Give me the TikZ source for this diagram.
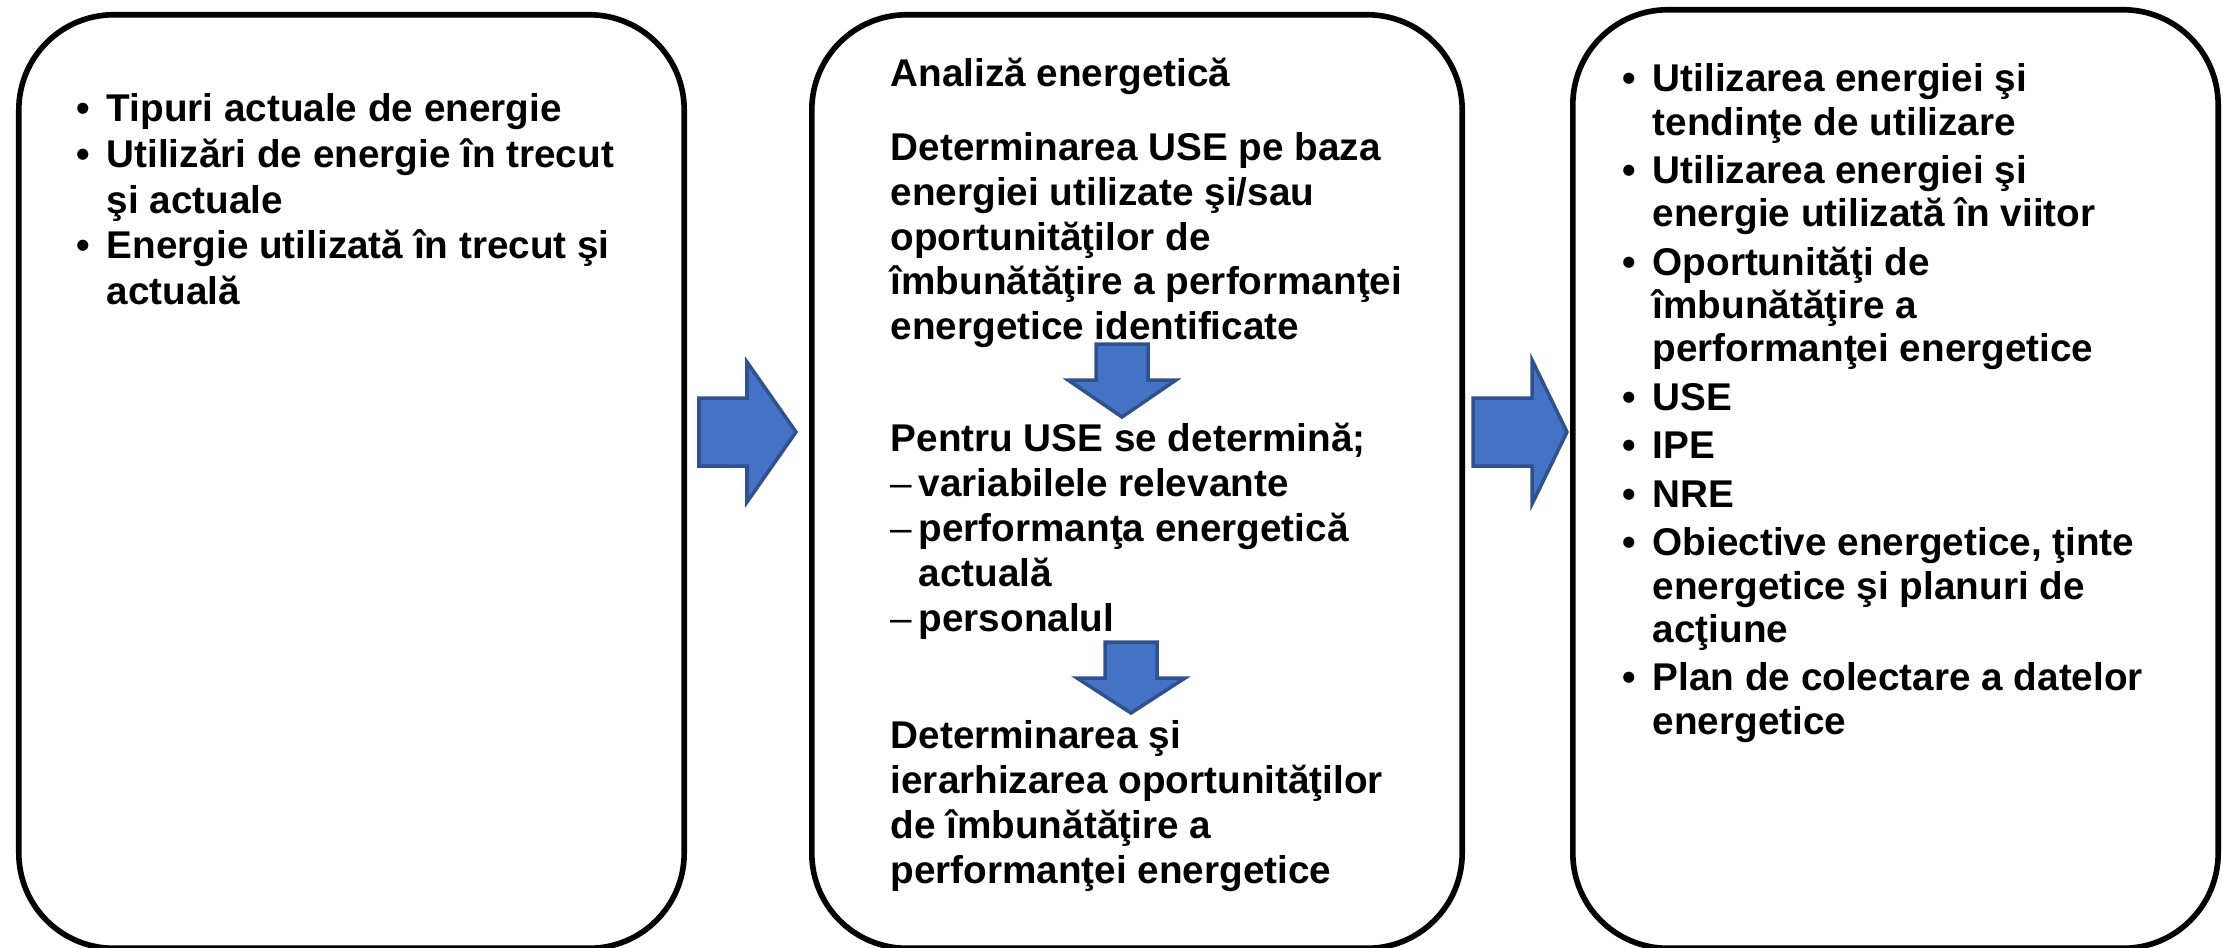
\documentclass[tikz,border=0pt]{standalone}
\usepackage{fontspec}
\setmainfont{Liberation Sans}
\usetikzlibrary{positioning}
\definecolor{arrowblue}{RGB}{68,114,196}
\definecolor{arrowedge}{RGB}{47,82,143}
\newcommand{\bul}{\llap{\textbullet\hspace{0.165cm}}}
\newcommand{\dash}{\makebox[0.28cm][l]{\mdseries –}}
\tikzset{
  box/.style={draw, line width=1.6pt, rounded corners=0.95cm, inner sep=0pt},
  txt/.style={anchor=north west, inner sep=0pt, align=left,
    font=\bfseries\fontsize{11pt}{12.3pt}\selectfont},
  blockarrow/.style={fill=arrowblue, draw=arrowedge, line width=1pt, line join=miter}
}
\begin{document}
\begin{tikzpicture}[x=0.01cm, y=-0.01cm]
\useasboundingbox (0,0) rectangle (2223,947);
% the three boxes
\node (1) [box, minimum width=6.65cm, minimum height=9.33cm] at (351.5,481.5) {};
\node (2) [box, minimum width=6.50cm, minimum height=9.33cm] at (1137,481.5) {};
\node (3) [box, minimum width=6.45cm, minimum height=9.38cm] at (1895.5,479) {};
% box 1
\node (t1) [txt, font=\bfseries\fontsize{11pt}{13pt}\selectfont] at (106,93) {\bul Tipuri actuale de energie\\
\bul Utilizări de energie în trecut\\
şi actuale\\
\bul Energie utilizată în trecut şi\\
actuală};
% box 2
\node (t2) [txt] at (890,57) {Analiză energetică};
\node (t3) [txt, font=\bfseries\fontsize{11pt}{12.7pt}\selectfont] at (890,132) {Determinarea USE pe baza\\
energiei utilizate şi/sau\\
oportunităţilor de\\
îmbunătăţire a performanţei\\
energetice identificate};
\node (t4) [txt, font=\bfseries\fontsize{11pt}{12.8pt}\selectfont] at (890,422) {Pentru USE se determină;\\
\dash variabilele relevante\\
\dash performanţa energetică\\
\hspace{0.28cm}actuală\\
\dash personalul};
\node (t5) [txt, font=\bfseries\fontsize{11pt}{12.8pt}\selectfont] at (890,720) {Determinarea şi\\
ierarhizarea oportunităţilor\\
de îmbunătăţire a\\
performanţei energetice};
% box 3
\node (t6) [txt] at (1652,63) {\bul Utilizarea energiei şi\\
tendinţe de utilizare\\[1.5pt]
\bul Utilizarea energiei şi\\
energie utilizată în viitor\\[1.5pt]
\bul Oportunităţi de\\
îmbunătăţire a\\
performanţei energetice\\[1.5pt]
\bul USE\\[1.5pt]
\bul IPE\\[1.5pt]
\bul NRE\\[1.5pt]
\bul Obiective energetice, ţinte\\
energetice şi planuri de\\
acţiune\\[1.5pt]
\bul Plan de colectare a datelor\\
energetice};
% block arrows
\draw[blockarrow] (699,398) -- (747,398) -- (747,362) -- (796,432) -- (747,502) -- (747,466) -- (699,466) -- cycle;
\draw[blockarrow] (1473,398) -- (1532,398) -- (1532,360) -- (1567,432) -- (1532,504) -- (1532,466) -- (1473,466) -- cycle;
\draw[blockarrow] (1096,344) -- (1148,344) -- (1148,380) -- (1176,380) -- (1122,417) -- (1068,380) -- (1096,380) -- cycle;
\draw[blockarrow] (1105,642) -- (1157,642) -- (1157,678) -- (1185,678) -- (1131,713) -- (1077,678) -- (1105,678) -- cycle;
\end{tikzpicture}
\end{document}
